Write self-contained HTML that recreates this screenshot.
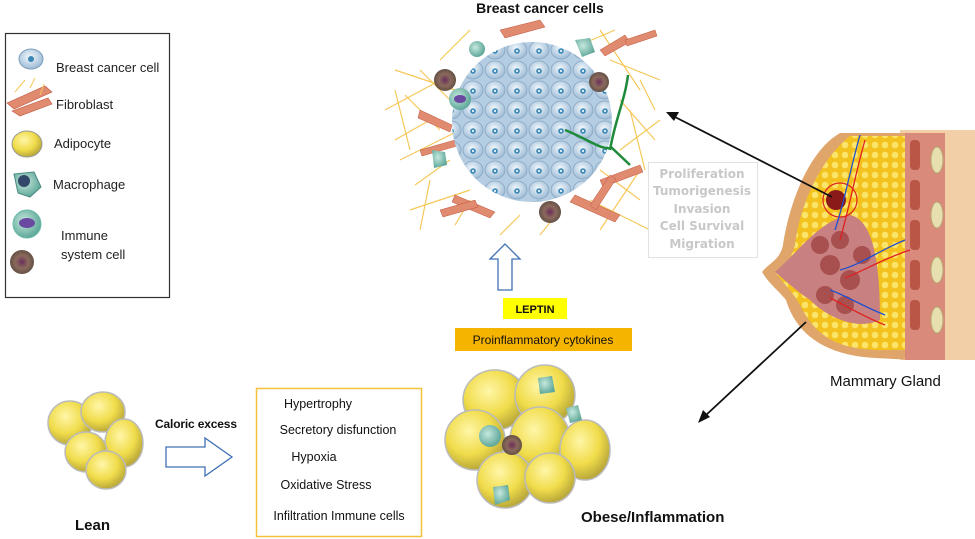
<!DOCTYPE html>
<html><head><meta charset="utf-8"><style>
html,body{margin:0;padding:0;background:#fff;}
svg{display:block;font-family:"Liberation Sans",Arial,sans-serif;}
</style></head><body>
<svg width="975" height="539" viewBox="0 0 975 539" xmlns="http://www.w3.org/2000/svg">
<defs>
<radialGradient id="ad" cx="40%" cy="35%" r="65%"><stop offset="0" stop-color="#fff6a8"/><stop offset="0.6" stop-color="#f0dc4a"/><stop offset="1" stop-color="#b9a83a"/></radialGradient>
<radialGradient id="bc" cx="45%" cy="40%" r="60%"><stop offset="0" stop-color="#f2f8fc"/><stop offset="1" stop-color="#9dbbd6"/></radialGradient>
<pattern id="cells" width="22" height="20" patternUnits="userSpaceOnUse">
<rect width="22" height="20" fill="#b5cde2"/>
<ellipse cx="11" cy="10" rx="10" ry="9" fill="url(#bc)" stroke="#86a6c2" stroke-width="0.8"/>
<circle cx="11" cy="11" r="2.8" fill="#3a86b5"/><circle cx="11" cy="11" r="1.2" fill="#d9ecf7"/>
</pattern>
<pattern id="fat" width="10" height="10" patternUnits="userSpaceOnUse">
<rect width="10" height="10" fill="#f4c21e"/><circle cx="5" cy="5" r="3.3" fill="#fbe46a"/>
</pattern>
<radialGradient id="mac" cx="40%" cy="40%" r="60%"><stop offset="0" stop-color="#c6e8dd"/><stop offset="1" stop-color="#5fa89a"/></radialGradient>
<radialGradient id="imm" cx="50%" cy="50%" r="55%"><stop offset="0" stop-color="#6a2f5a"/><stop offset="0.5" stop-color="#8b6a5c"/><stop offset="1" stop-color="#5a4a40"/></radialGradient>
</defs>

<!-- Legend -->
<rect x="5.5" y="33.5" width="164" height="264" fill="#fff" stroke="#333" stroke-width="1.2"/>
<ellipse cx="31" cy="59" rx="12" ry="10" fill="url(#bc)" stroke="#7f9fbd"/><circle cx="31" cy="59" r="3" fill="#3a86b5"/>
<text x="56" y="72" font-size="13" fill="#222">Breast cancer cell</text>
<g fill="#e08a70" stroke="#c0553d" stroke-width="0.6"><path d="M7 103 L45 86 L52 92 L14 109Z"/><path d="M12 111 L48 98 L52 104 L20 116Z"/></g>
<g stroke="#f5c85a" stroke-width="1"><path d="M15 92 L25 80 M30 88 L35 78 M40 95 L44 84"/></g>
<text x="56" y="109" font-size="13" fill="#222">Fibroblast</text>
<ellipse cx="27" cy="144" rx="15" ry="13" fill="url(#ad)" stroke="#999"/>
<text x="54" y="148" font-size="13" fill="#222">Adipocyte</text>
<path d="M14 174 L34 172 L41 187 L30 197 L18 193Z" fill="url(#mac)" stroke="#4a8a80"/><ellipse cx="24" cy="181" rx="6" ry="6" fill="#33496a"/>
<text x="53" y="189" font-size="13" fill="#222">Macrophage</text>
<circle cx="27" cy="224" r="14" fill="url(#mac)" stroke="#6bbcaa"/><ellipse cx="27" cy="223" rx="8" ry="5" fill="#6a4aa0"/>
<circle cx="22" cy="262" r="12" fill="url(#imm)"/>
<text x="61" y="240" font-size="13" fill="#222">Immune</text>
<text x="61" y="259" font-size="13" fill="#222">system cell</text>

<!-- Title -->
<text x="540" y="13" font-size="14" font-weight="bold" text-anchor="middle" fill="#111">Breast cancer cells</text>

<!-- Tumor microenvironment -->
<g stroke="#f5c85a" stroke-width="1.2" fill="none">
<path d="M395 70 L470 95 M385 110 L450 75 M400 160 L460 130 M410 210 L470 190 M600 30 L640 90 M610 60 L660 80 M590 200 L650 230 M620 150 L660 120 M430 180 L420 230 M395 90 L410 150 M640 170 L600 230 M560 210 L540 235 M470 30 L440 60 M620 100 L655 140 M405 95 L440 130 M395 140 L430 120 M415 185 L450 160 M630 110 L645 170 M600 170 L640 200 M520 215 L500 235 M455 225 L470 200 M580 45 L615 30 M420 70 L450 100 M640 80 L655 110"/>
</g>
<g fill="#e08a70" stroke="#c0553d" stroke-width="0.5">
<path d="M500 30 L540 20 L545 27 L505 38Z"/><path d="M420 110 L452 125 L450 132 L418 118Z"/><path d="M455 195 L495 212 L490 218 L452 202Z"/><path d="M440 210 L475 200 L478 207 L443 217Z"/><path d="M575 195 L620 215 L615 222 L570 202Z"/><path d="M600 180 L640 165 L643 172 L603 187Z"/><path d="M600 50 L625 35 L630 42 L605 56Z"/><path d="M590 205 L610 175 L616 179 L596 210Z"/><path d="M420 150 L455 140 L457 146 L422 156Z"/><path d="M625 40 L655 30 L657 36 L627 46Z"/>
</g>
<circle cx="532" cy="122" r="80" fill="url(#cells)"/>
<path d="M565 130 C590 140 600 150 612 148 L630 165 M610 150 C615 120 625 100 628 75" fill="none" stroke="#1f8a3a" stroke-width="2.5"/>
<circle cx="477" cy="49" r="8" fill="url(#mac)"/><circle cx="445" cy="80" r="11" fill="url(#imm)"/><circle cx="460" cy="99" r="11" fill="url(#mac)"/><ellipse cx="460" cy="99" rx="6" ry="4" fill="#6a4aa0"/>
<path d="M575 40 L590 38 L595 52 L582 57Z" fill="url(#mac)"/><circle cx="599" cy="82" r="10" fill="url(#imm)"/>
<path d="M432 150 L445 152 L447 165 L434 168Z" fill="url(#mac)"/><circle cx="550" cy="212" r="11" fill="url(#imm)"/>

<!-- up hollow arrow -->
<path d="M498 290 L512 290 L512 259 L520 259 L505 244 L490 259 L498 259Z" fill="#fff" stroke="#3e70b5" stroke-width="1.3"/>
<rect x="503" y="298" width="64" height="21" fill="#ffff00"/>
<text x="535" y="313" font-size="11" font-weight="bold" text-anchor="middle" fill="#111">LEPTIN</text>
<rect x="455" y="328" width="177" height="23" fill="#f5b400"/>
<text x="543" y="344" font-size="12" text-anchor="middle" fill="#111">Proinflammatory cytokines</text>

<!-- Obese cluster -->
<g stroke="#bbb" stroke-width="1.5">
<ellipse cx="495" cy="400" rx="32" ry="30" fill="url(#ad)"/><ellipse cx="545" cy="395" rx="30" ry="30" fill="url(#ad)"/>
<ellipse cx="475" cy="440" rx="30" ry="30" fill="url(#ad)"/><ellipse cx="540" cy="440" rx="30" ry="33" fill="url(#ad)"/>
<ellipse cx="585" cy="450" rx="25" ry="30" fill="url(#ad)"/><ellipse cx="505" cy="480" rx="28" ry="28" fill="url(#ad)"/><ellipse cx="550" cy="478" rx="25" ry="25" fill="url(#ad)"/>
</g>
<circle cx="490" cy="436" r="11" fill="url(#mac)"/><circle cx="512" cy="445" r="10" fill="url(#imm)"/><path d="M538 378 L552 376 L555 392 L540 394Z" fill="url(#mac)"/><path d="M493 487 L508 485 L510 500 L495 505Z" fill="url(#mac)"/><path d="M566 408 L578 405 L582 420 L570 423Z" fill="url(#mac)"/>

<!-- Lean cluster -->
<g stroke="#bbb" stroke-width="1.5">
<ellipse cx="70" cy="423" rx="22" ry="22" fill="url(#ad)"/><ellipse cx="103" cy="412" rx="22" ry="20" fill="url(#ad)"/><ellipse cx="124" cy="443" rx="19" ry="24" fill="url(#ad)"/>
<ellipse cx="86" cy="452" rx="21" ry="20" fill="url(#ad)"/><ellipse cx="106" cy="470" rx="20" ry="19" fill="url(#ad)"/>
</g>
<text x="155" y="428" font-size="12" font-weight="bold" fill="#111" textLength="82">Caloric excess</text>
<path d="M166 447 L205 447 L205 438 L232 457 L205 476 L205 467 L166 467Z" fill="#fff" stroke="#3e70b5" stroke-width="1.3"/>
<text x="75" y="530" font-size="15" font-weight="bold" fill="#111">Lean</text>

<!-- Box -->
<rect x="256.5" y="388.5" width="165" height="148" fill="#fff" stroke="#f3c23b" stroke-width="1.5"/>
<g font-size="12.5" fill="#111" text-anchor="middle">
<text x="318" y="408">Hypertrophy</text>
<text x="338" y="434">Secretory disfunction</text>
<text x="314" y="461">Hypoxia</text>
<text x="326" y="489">Oxidative Stress</text>
<text x="339" y="520">Infiltration Immune cells</text>
</g>
<text x="581" y="522" font-size="15" font-weight="bold" fill="#111">Obese/Inflammation</text>

<!-- Breast -->
<path d="M900 130 L975 130 L975 360 L925 360 L900 360Z" fill="#f3cfa8"/>
<path d="M840 133 C810 150 790 200 783 245 C780 260 770 262 762 272 C770 285 778 290 786 300 C795 330 820 355 875 358 L915 360 L915 133Z" fill="#dfa56b"/>
<path d="M850 136 C820 160 800 205 795 245 C790 262 782 268 775 272 C785 285 795 295 800 305 C815 335 835 348 875 350 L908 350 L908 136Z" fill="url(#fat)"/>
<path d="M905 133 L945 133 L945 360 L905 360Z" fill="#d98a7a"/>
<g fill="#b24a3a" opacity="0.8"><rect x="910" y="140" width="10" height="30" rx="4"/><rect x="910" y="180" width="10" height="30" rx="4"/><rect x="910" y="220" width="10" height="30" rx="4"/><rect x="910" y="260" width="10" height="30" rx="4"/><rect x="910" y="300" width="10" height="30" rx="4"/></g>
<g fill="#e8dfb0" stroke="#b8a870"><ellipse cx="937" cy="160" rx="6" ry="13"/><ellipse cx="937" cy="215" rx="6" ry="13"/><ellipse cx="937" cy="270" rx="6" ry="13"/><ellipse cx="937" cy="320" rx="6" ry="13"/></g>
<path d="M775 272 C800 250 820 220 850 215 C875 220 880 270 880 320 C860 330 830 320 810 300 C795 290 785 280 775 272Z" fill="#c98080"/>
<g fill="#a85050"><circle cx="820" cy="245" r="9"/><circle cx="840" cy="240" r="9"/><circle cx="830" cy="265" r="10"/><circle cx="850" cy="280" r="10"/><circle cx="825" cy="295" r="9"/><circle cx="845" cy="305" r="9"/><circle cx="862" cy="255" r="9"/></g>
<circle cx="840" cy="200" r="17" fill="none" stroke="#e02020" stroke-width="1.2"/>
<circle cx="836" cy="200" r="10" fill="#8a1a1a"/>
<g fill="none" stroke-width="1.3"><path d="M860 135 C850 170 845 200 835 230" stroke="#2050d0"/><path d="M865 140 C855 175 850 205 840 240" stroke="#e02020"/><path d="M905 240 C880 250 860 265 840 270" stroke="#2050d0"/><path d="M910 250 C885 258 865 270 845 278" stroke="#e02020"/><path d="M885 315 C860 305 845 295 830 290" stroke="#2050d0"/><path d="M885 325 C860 315 845 305 830 298" stroke="#e02020"/></g>

<!-- Gray box -->
<rect x="648.5" y="162.5" width="109" height="95" fill="#fff" stroke="#e2e2e2"/>
<g font-size="12" fill="#c8c8c8" text-anchor="middle" font-family="DejaVu Sans,sans-serif" font-weight="bold">
<text x="702" y="178">Proliferation</text><text x="702" y="195">Tumorigenesis</text><text x="702" y="213">Invasion</text><text x="702" y="230">Cell Survival</text><text x="702" y="248">Migration</text>
</g>
<text x="830" y="386" font-size="15" fill="#111">Mammary Gland</text>

<!-- arrows -->
<line x1="832" y1="197" x2="675" y2="117" stroke="#111" stroke-width="1.8"/>
<path d="M666 112 L679 112 L674 121Z" fill="#111"/>
<line x1="806" y1="322" x2="705" y2="416" stroke="#111" stroke-width="1.8"/>
<path d="M698 423 L703 410 L710 417Z" fill="#111"/>
</svg>
</body></html>
